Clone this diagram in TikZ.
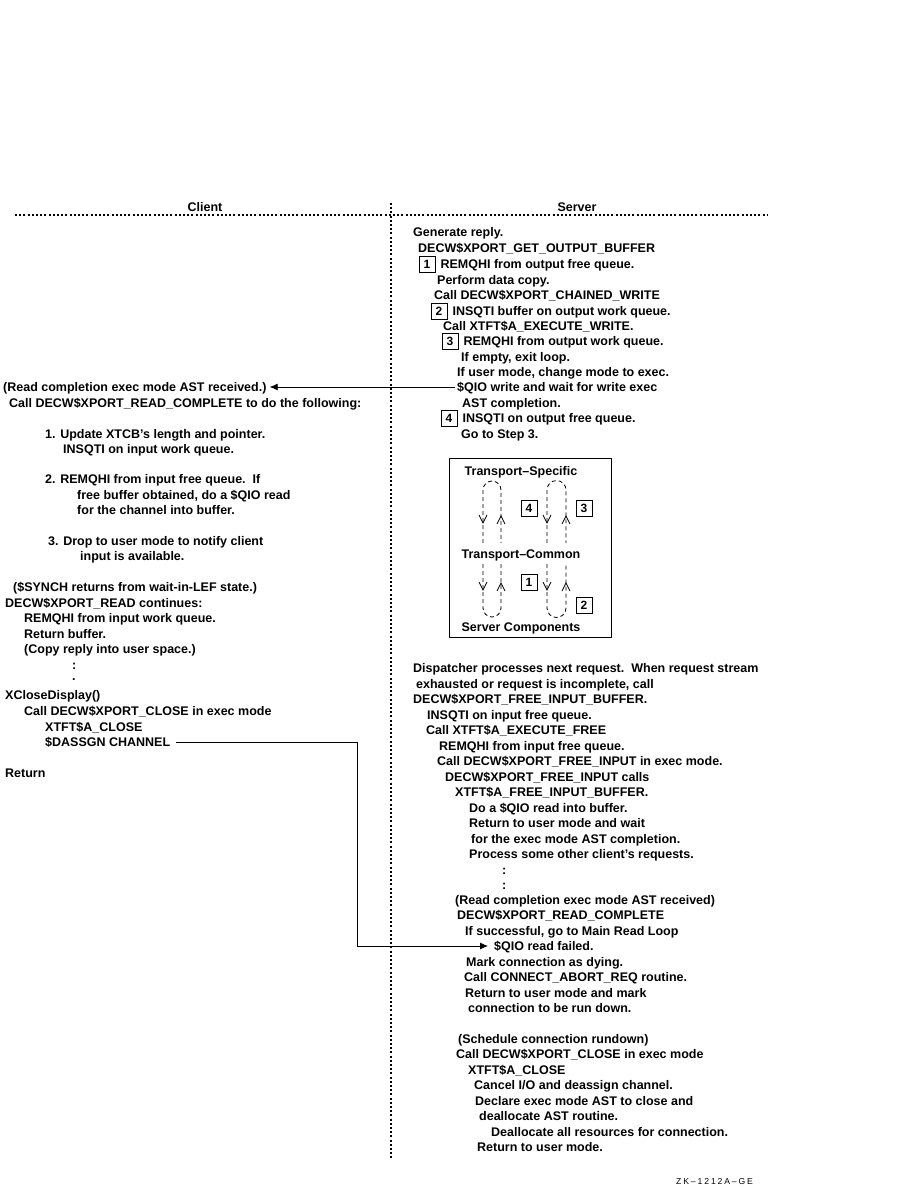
\documentclass[tikz,border=0pt]{standalone}
\usepackage{fontspec}
\setmainfont{Liberation Sans}
\newfontfamily\tagfont[LetterSpace=22]{Liberation Sans}
\usepackage{tikz}
\usetikzlibrary{arrows.meta, positioning, calc}

\begin{document}
\begin{tikzpicture}[x=1pt, y=-1pt,
    txt/.style={anchor=west, inner sep=0pt, text height=10pt, text depth=2pt, font=\fontsize{12.5}{15}\bfseries},
    head/.style={txt, anchor=center},
    numbox/.style={draw, line width=0.8pt, minimum size=16pt, inner sep=0pt, font=\fontsize{12}{14}\bfseries},
    divider/.style={line width=2pt, dash pattern=on 2pt off 2.2pt},
    loopline/.style={line width=0.8pt, dash pattern=on 4pt off 3pt},
    vtip/.style={line width=0.8pt},
    line/.style={draw=black, line width=0.8pt, -{Latex[length=8pt,width=7pt]}}
]
    \useasboundingbox (0,0) rectangle (923,1191);

    % Headings and dividers
    \node (client) [head] at (205,207) {Client};
    \node (server) [head] at (577,207) {Server};
    \draw [divider] (15,215) -- (768,215);
    \draw [divider] (391,203) -- (391,1160);

    % Server: write path
    \node (genreply) [txt] at (413,232) {Generate reply.};
    \node (getbuf) [txt] at (418,248) {DECW\$XPORT\_GET\_OUTPUT\_BUFFER};
    \node (s1) [numbox] at (427,264) {1};
    \node (remqfree) [txt, right=5pt of s1] {REMQHI from output free queue.};
    \node (perform) [txt] at (437,280) {Perform data copy.};
    \node (chained) [txt] at (434,295) {Call DECW\$XPORT\_CHAINED\_WRITE};
    \node (s2) [numbox] at (439,311) {2};
    \node (insqwork) [txt, right=5pt of s2] {INSQTI buffer on output work queue.};
    \node (execwrite) [txt] at (443,326) {Call XTFT\$A\_EXECUTE\_WRITE.};
    \node (s3) [numbox] at (450,341) {3};
    \node (remqwork) [txt, right=5pt of s3] {REMQHI from output work queue.};
    \node (ifempty) [txt] at (461,357) {If empty, exit loop.};
    \node (ifuser) [txt] at (457,372) {If user mode, change mode to exec.};
    \node (qiowrite) [txt] at (457,387) {\$QIO write and wait for write exec};
    \node (astcomp) [txt] at (462,403) {AST completion.};
    \node (s4) [numbox] at (449,418) {4};
    \node (insqfree) [txt, right=5pt of s4] {INSQTI on output free queue.};
    \node (gostep) [txt] at (461,434) {Go to Step 3.};

    % Client: read completion
    \node (readast) [txt] at (3,387) {(Read completion exec mode AST received.)};
    \node (readcall) [txt] at (9,403) {Call DECW\$XPORT\_READ\_COMPLETE to do the following:};
    \node (upd) [txt] at (45,434) {1. Update XTCB's length and pointer.};
    \node (updq) [txt] at (63,449) {INSQTI on input work queue.};
    \node (remq) [txt] at (45,479) {2. REMQHI from input free queue.\ \ If};
    \node (remqa) [txt] at (77,495) {free buffer obtained, do a \$QIO read};
    \node (remqb) [txt] at (77,510) {for the channel into buffer.};
    \node (drop) [txt] at (48,541) {3. Drop to user mode to notify client};
    \node (dropa) [txt] at (80,556) {input is available.};
    \node (synch) [txt] at (13,587) {(\$SYNCH returns from wait-in-LEF state.)};
    \node (xread) [txt] at (5,603) {DECW\$XPORT\_READ continues:};
    \node (xremq) [txt] at (24,618) {REMQHI from input work queue.};
    \node (xret) [txt] at (24,634) {Return buffer.};
    \node (xcopy) [txt] at (24,649) {(Copy reply into user space.)};
    \node (cdots) [txt] at (72,665) {:};
    \node (cdot) [txt] at (72,676) {.};
    \node (xclose) [txt] at (5,695) {XCloseDisplay()};
    \node (xcall) [txt] at (24,711) {Call DECW\$XPORT\_CLOSE in exec mode};
    \node (xtclose) [txt] at (45,727) {XTFT\$A\_CLOSE};
    \node (dassgn) [txt] at (45,742) {\$DASSGN CHANNEL};
    \node (ret) [txt] at (5,773) {Return};

    % Server components box
    \node (diag) [draw, line width=0.8pt, minimum width=162pt, minimum height=179pt] at (530,547.5) {};
    \node (tspec) [head] at (521,471) {Transport–Specific};
    \node (tcomm) [head] at (521,554) {Transport–Common};
    \node (scomp) [head] at (521,627) {Server Components};
    \node (d4) [numbox] at (529,508) {4};
    \node (d3) [numbox] at (584,508) {3};
    \node (d1) [numbox] at (529,582) {1};
    \node (d2) [numbox] at (584,605) {2};
    \draw [loopline] (483,543) -- (483,490) arc[start angle=180, end angle=360, radius=9] -- (501,543);
    \draw [loopline] (547,543) -- (547,490) arc[start angle=180, end angle=360, radius=9.5] -- (566,543);
    \draw [loopline] (483,564) -- (483,608) arc[start angle=180, end angle=0, radius=9] -- (501,564);
    \draw [loopline] (547,564) -- (547,608) arc[start angle=180, end angle=0, radius=9.5] -- (566,564);
    \draw [vtip] (479,515) -- (483,523) -- (487,515);
    \draw [vtip] (497,524) -- (501,516) -- (505,524);
    \draw [vtip] (543,515) -- (547,523) -- (551,515);
    \draw [vtip] (562,524) -- (566,516) -- (570,524);
    \draw [vtip] (479,582) -- (483,590) -- (487,582);
    \draw [vtip] (497,591) -- (501,583) -- (505,591);
    \draw [vtip] (543,582) -- (547,590) -- (551,582);
    \draw [vtip] (562,591) -- (566,583) -- (570,591);

    % Server: free input buffer
    \node (dispatch) [txt] at (413,668) {Dispatcher processes next request.\ \ When request stream};
    \node (exhaust) [txt] at (416,684) {exhausted or request is incomplete, call};
    \node (freebuf) [txt] at (413,699) {DECW\$XPORT\_FREE\_INPUT\_BUFFER.};
    \node (insqin) [txt] at (427,715) {INSQTI on input free queue.};
    \node (execfree) [txt] at (426,730) {Call XTFT\$A\_EXECUTE\_FREE};
    \node (remqin) [txt] at (439,746) {REMQHI from input free queue.};
    \node (freeinput) [txt] at (437,761) {Call DECW\$XPORT\_FREE\_INPUT in exec mode.};
    \node (fincalls) [txt] at (445,777) {DECW\$XPORT\_FREE\_INPUT calls};
    \node (finbuf) [txt] at (455,792) {XTFT\$A\_FREE\_INPUT\_BUFFER.};
    \node (qioread) [txt] at (469,808) {Do a \$QIO read into buffer.};
    \node (retwait) [txt] at (469,823) {Return to user mode and wait};
    \node (forexec) [txt] at (471,839) {for the exec mode AST completion.};
    \node (process) [txt] at (469,854) {Process some other client's requests.};
    \node (sdots) [txt] at (502,870) {:};
    \node (sdotsb) [txt] at (502,885) {:};
    \node (sreadast) [txt] at (455,900) {(Read completion exec mode AST received)};
    \node (sreadc) [txt] at (457,915) {DECW\$XPORT\_READ\_COMPLETE};
    \node (ifok) [txt] at (465,931) {If successful, go to Main Read Loop};
    \node (qiofail) [txt] at (494,946) {\$QIO read failed.};
    \node (mark) [txt] at (466,962) {Mark connection as dying.};
    \node (abort) [txt] at (464,977) {Call CONNECT\_ABORT\_REQ routine.};
    \node (retmark) [txt] at (465,993) {Return to user mode and mark};
    \node (rundown) [txt] at (468,1008) {connection to be run down.};
    \node (sched) [txt] at (458,1039) {(Schedule connection rundown)};
    \node (scall) [txt] at (456,1054) {Call DECW\$XPORT\_CLOSE in exec mode};
    \node (stclose) [txt] at (468,1070) {XTFT\$A\_CLOSE};
    \node (cancel) [txt] at (474,1085) {Cancel I/O and deassign channel.};
    \node (declare) [txt] at (475,1101) {Declare exec mode AST to close and};
    \node (dealloc) [txt] at (479,1116) {deallocate AST routine.};
    \node (dealall) [txt] at (491,1132) {Deallocate all resources for connection.};
    \node (sret) [txt] at (477,1147) {Return to user mode.};

    \node (tag) [anchor=west, inner sep=0pt, font=\tagfont\fontsize{8.6}{10}\selectfont] at (676,1182) {ZK–1212A–GE};

    % Connectors
    \coordinate (elbow) at (357,0);
    \draw [line, shorten <=2pt, shorten >=3pt] (qiowrite.west) -- (readast.east);
    \draw [line, shorten <=6pt, shorten >=6pt] (dassgn.east) -- (dassgn.east -| elbow) |- (qiofail.west);
\end{tikzpicture}
\end{document}
